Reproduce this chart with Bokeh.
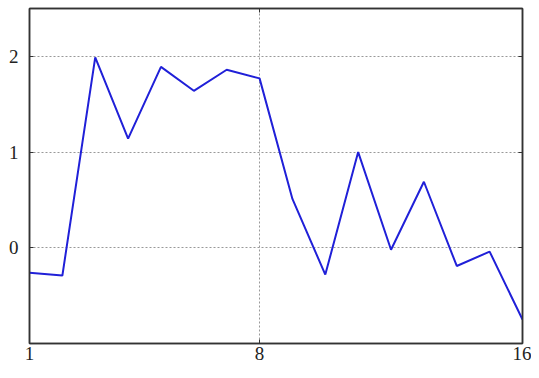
from bokeh.plotting import figure
from bokeh.models import Range1d, FixedTicker, LinearAxis
from bokeh.embed import file_html
from bokeh.resources import INLINE

x_values = list(range(1, 17))
y_values = [-0.26, -0.29, 1.99, 1.14, 1.89, 1.64, 1.86, 1.77,
            0.51, -0.28, 1.0, -0.02, 0.69, -0.19, -0.04, -0.75]
x_ticks = [1, 8, 16]
y_ticks = [0, 1, 2]

p = figure(width=531, height=362, output_backend="svg", toolbar_location=None,
           x_range=Range1d(1, 16), y_range=Range1d(-1, 2.5),
           min_border_left=29, min_border_right=9, min_border_top=8,
           min_border_bottom=4)

p.line(x_values, y_values, line_color="#2020d8", line_width=2)

p.outline_line_color = "#333333"
p.outline_line_width = 1.5
p.background_fill_color = "white"
p.border_fill_color = "white"

font = "serif"
for ax in (p.xaxis[0], p.yaxis[0]):
    ax.major_label_text_font = font
    ax.major_label_text_font_size = "19px"
    ax.major_label_text_color = "#222222"
    ax.axis_line_color = "#333333"
    ax.axis_line_width = 1.5
    ax.major_tick_in = 4
    ax.major_tick_out = 0
    ax.major_tick_line_color = "#333333"
    ax.minor_tick_line_color = None
p.xaxis[0].ticker = FixedTicker(ticks=x_ticks)
p.yaxis[0].ticker = FixedTicker(ticks=y_ticks)
p.xaxis[0].major_label_standoff = 3
p.yaxis[0].major_label_standoff = 11

for loc, ticks in (("above", x_ticks), ("right", y_ticks)):
    ax = LinearAxis(ticker=FixedTicker(ticks=ticks))
    ax.major_label_overrides = {t: "" for t in ticks}
    ax.major_label_standoff = 0
    ax.axis_line_color = "#333333"
    ax.axis_line_width = 1.5
    ax.major_tick_in = 4
    ax.major_tick_out = 0
    ax.major_tick_line_color = "#333333"
    ax.minor_tick_line_color = None
    p.add_layout(ax, loc)

p.xgrid.ticker = FixedTicker(ticks=x_ticks)
p.ygrid.ticker = FixedTicker(ticks=y_ticks)
for g in (p.xgrid[0], p.ygrid[0]):
    g.grid_line_color = "#999999"
    g.grid_line_dash = "2 2"
    g.grid_line_width = 1

open("out.html", "w").write(file_html(p, INLINE))
